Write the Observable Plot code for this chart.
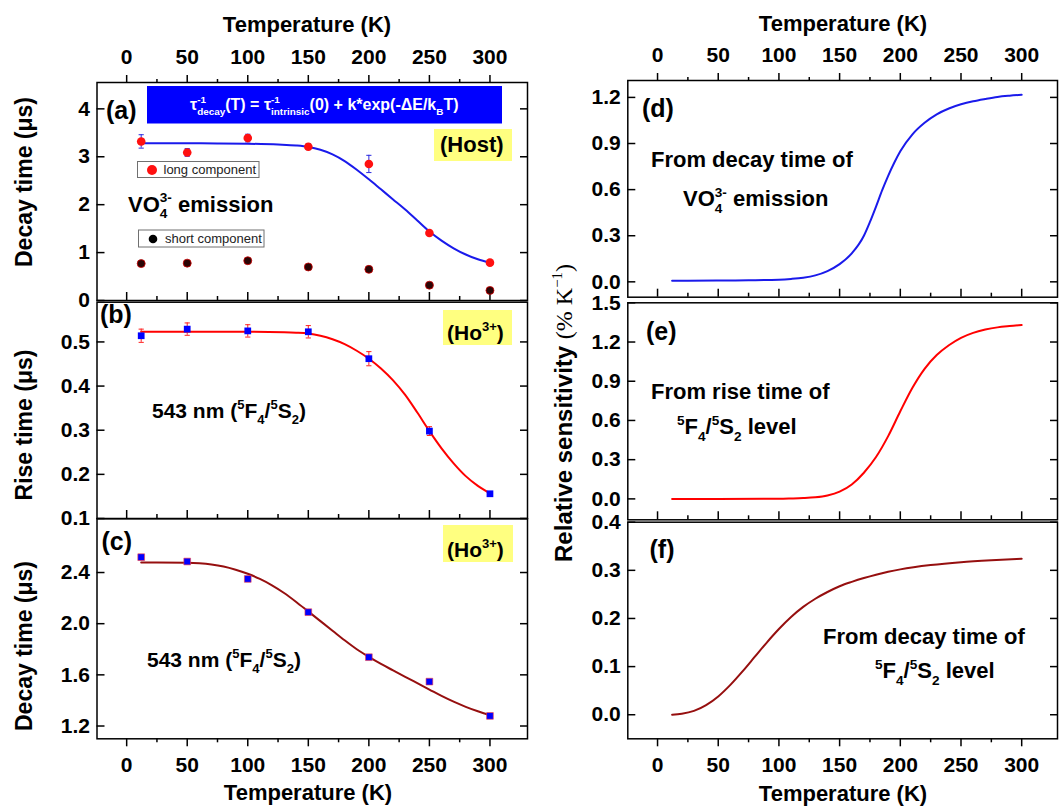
<!DOCTYPE html>
<html><head><meta charset="utf-8">
<script src="https://cdn.jsdelivr.net/npm/d3@7"></script>
<script src="https://cdn.jsdelivr.net/npm/@observablehq/plot@0.6"></script>
<style>
body{margin:0;background:#fff;}
#chart{position:relative;width:1059px;height:807px;overflow:hidden;background:#fff;}
#chart svg{position:absolute;}
</style></head><body><div id="chart"></div>
<script>
const FONT = "'Liberation Sans', Arial, sans-serif";
const SERIF = "'Liberation Serif', 'Times New Roman', serif";

// ---- data ----
const temps = [12, 50, 100, 150, 200, 250, 300];
const xMajor = [0, 50, 100, 150, 200, 250, 300];
const xMinor = [25, 75, 125, 175, 225, 275];

// (a) VO4 decay time
const aLong = [3.32, 3.09, 3.39, 3.21, 2.85, 1.41, 0.79];
const aLongErr = [0.14, 0.08, 0.08, 0.06, 0.18, 0.03, 0.03];
const aShort = [0.77, 0.78, 0.83, 0.70, 0.65, 0.32, 0.21];
const aShortErr = [0.03, 0.03, 0.03, 0.03, 0.03, 0.03, 0.06];
const aFitT = [12, 25, 50, 75, 100, 125, 140, 150, 160, 170, 180, 190, 200, 210, 220, 230, 240, 250, 260, 270, 280, 290, 300];
const aFitV = [3.28, 3.28, 3.28, 3.278, 3.272, 3.255, 3.235, 3.205, 3.145, 3.05, 2.91, 2.73, 2.53, 2.32, 2.11, 1.90, 1.67, 1.44, 1.25, 1.09, 0.96, 0.86, 0.79];

// (b) rise time
const bRise = [0.514, 0.529, 0.525, 0.523, 0.462, 0.298, 0.156];
const bRiseErr = [0.015, 0.014, 0.014, 0.014, 0.016, 0.01, 0.005];
const bFitT = [12, 50, 100, 130, 140, 150, 160, 170, 180, 190, 200, 210, 220, 230, 240, 250, 260, 270, 280, 290, 300];
const bFitV = [0.523, 0.523, 0.523, 0.522, 0.521, 0.519, 0.514, 0.506, 0.495, 0.48, 0.462, 0.44, 0.413, 0.38, 0.34, 0.298, 0.259, 0.225, 0.196, 0.174, 0.157];

// (c) Ho decay time
const cDecay = [2.52, 2.486, 2.35, 2.09, 1.738, 1.547, 1.279];
const cDecayErr = [0.02, 0.015, 0.015, 0.012, 0.012, 0.01, 0.01];
const cFitT = [12, 25, 50, 60, 70, 80, 90, 100, 110, 120, 130, 140, 150, 160, 170, 180, 190, 200, 210, 220, 230, 240, 250, 260, 270, 280, 290, 300];
const cFitV = [2.478, 2.478, 2.476, 2.472, 2.463, 2.447, 2.422, 2.39, 2.35, 2.3, 2.24, 2.17, 2.095, 2.02, 1.945, 1.87, 1.80, 1.74, 1.685, 1.635, 1.585, 1.535, 1.485, 1.435, 1.39, 1.35, 1.315, 1.285];

// (d)(e)(f) relative sensitivity
const dT = [12, 25, 50, 75, 100, 110, 120, 130, 140, 150, 160, 170, 175, 180, 185, 190, 195, 200, 210, 220, 230, 240, 250, 260, 270, 280, 290, 300];
const dV = [0.007, 0.007, 0.008, 0.01, 0.014, 0.019, 0.027, 0.042, 0.07, 0.115, 0.185, 0.30, 0.39, 0.49, 0.595, 0.69, 0.775, 0.85, 0.96, 1.035, 1.09, 1.128, 1.155, 1.175, 1.19, 1.203, 1.211, 1.217];
const eT = [12, 50, 100, 110, 120, 130, 140, 150, 160, 170, 180, 190, 200, 210, 220, 230, 240, 250, 260, 270, 280, 290, 300];
const eV = [0, 0, 0.001, 0.003, 0.006, 0.012, 0.026, 0.055, 0.11, 0.2, 0.32, 0.48, 0.67, 0.85, 0.995, 1.1, 1.175, 1.232, 1.27, 1.295, 1.312, 1.322, 1.33];
const fT = [12, 20, 30, 40, 50, 60, 70, 80, 90, 100, 110, 120, 130, 140, 150, 160, 170, 180, 190, 200, 225, 250, 275, 300];
const fV = [0, 0.002, 0.008, 0.02, 0.038, 0.062, 0.09, 0.12, 0.15, 0.178, 0.203, 0.224, 0.241, 0.255, 0.267, 0.276, 0.284, 0.291, 0.297, 0.302, 0.311, 0.317, 0.321, 0.324];

const pts = (vals, errs) => temps.map((T, i) => ({T, v: vals[i], e: errs ? errs[i] : 0}));
const curve = (Ts, Vs) => Ts.map((T, i) => ({T, v: Vs[i]}));

const capSym = {draw(ctx, size) { const w = Math.sqrt(size / Math.PI); ctx.moveTo(-w, 0); ctx.lineTo(w, 0); }};
const errMarks = (data, color) => [
  Plot.ruleX(data, {x: "T", y1: d => d.v - d.e, y2: d => d.v + d.e, stroke: color, strokeWidth: 1}),
  Plot.dot(data, {x: "T", y: d => d.v - d.e, symbol: capSym, r: 2.6, stroke: color, fill: "none", strokeWidth: 1}),
  Plot.dot(data, {x: "T", y: d => d.v + d.e, symbol: capSym, r: 2.6, stroke: color, fill: "none", strokeWidth: 1})
];

const chart = document.getElementById("chart");

function panel(cfg) {
  const marks = [
    Plot.axisY({anchor: "left", ticks: cfg.yt, tickSize: 0, tickPadding: 7, tickFormat: cfg.yf, fontSize: 21, fontWeight: "bold", label: null}),
    Plot.axisY({anchor: "left", ticks: cfg.yt, tickSize: 8, dx: 8, tickFormat: () => "", label: null, strokeWidth: 1.5}),
    Plot.axisY({anchor: "right", ticks: cfg.yt, tickSize: 8, dx: -8, tickFormat: () => "", label: null, strokeWidth: 1.5})
  ];
  if (cfg.topAxis) marks.push(
    Plot.axisX({anchor: "top", ticks: xMajor, tickSize: 8, tickPadding: 10.5, fontSize: 21, fontWeight: "bold", label: null, strokeWidth: 1.5}),
    Plot.axisX({anchor: "top", ticks: xMinor, tickSize: 4, tickFormat: () => "", label: null, strokeWidth: 1.5})
  );
  if (cfg.bottomOut) marks.push(
    Plot.axisX({anchor: "bottom", ticks: xMajor, tickSize: 8, tickPadding: 10.5, fontSize: 21, fontWeight: "bold", label: null, strokeWidth: 1.5}),
    Plot.axisX({anchor: "bottom", ticks: xMinor, tickSize: 4, tickFormat: () => "", label: null, strokeWidth: 1.5})
  ); else marks.push(
    Plot.axisX({anchor: "bottom", ticks: xMajor, tickSize: 8, dy: -8, tickFormat: () => "", label: null, strokeWidth: 1.5}),
    Plot.axisX({anchor: "bottom", ticks: xMinor, tickSize: 4, dy: -4, tickFormat: () => "", label: null, strokeWidth: 1.5})
  );
  marks.push(...cfg.marks, Plot.frame({stroke: "black", strokeWidth: 1.5}));
  const svg = Plot.plot({
    width: cfg.width, height: cfg.height,
    marginLeft: cfg.ml, marginRight: cfg.mr, marginTop: cfg.mt, marginBottom: cfg.mb,
    x: {domain: cfg.xd},
    y: {domain: cfg.yd},
    style: {background: "transparent", overflow: "visible", fontFamily: FONT, color: "black"},
    marks
  });
  svg.style.left = cfg.left + "px";
  svg.style.top = cfg.top + "px";
  chart.appendChild(svg);
  svg.__off = [cfg.left, cfg.top];
  return svg;
}

function rich(svg, x, y, parts, o = {}) {
  const off = svg.__off;
  const size = o.size ?? 22;
  const px = x - off[0], py = y - off[1];
  const t = d3.select(svg).append("text")
    .attr("x", px).attr("y", py)
    .attr("font-family", o.family ?? FONT).attr("font-size", size)
    .attr("font-weight", o.weight ?? "bold").attr("fill", o.fill ?? "black")
    .attr("text-anchor", o.anchor ?? "start");
  if (o.rotate) t.attr("transform", `rotate(${o.rotate}, ${px}, ${py})`);
  let shift = 0, lastLen = 0, pending = 0;
  for (const [s, k, extra] of parts) {
    const ts = t.append("tspan").text(s);
    const target = k === "sup" ? -0.42 * size : (k === "sub" || k === "subStack") ? 0.3 * size : 0;
    ts.attr("dy", target - shift);
    shift = target;
    if (k) ts.attr("font-size", size * 0.62);
    if (extra) for (const [a, v] of Object.entries(extra)) ts.attr(a, v);
    const len = ts.node().getComputedTextLength();
    if (k === "subStack") {
      ts.attr("dx", -lastLen);
      pending = Math.max(0, lastLen - len);
    } else {
      if (pending) ts.attr("dx", pending);
      pending = 0;
    }
    lastLen = len;
  }
  return t;
}
function box(svg, x1, y1, x2, y2, fill, stroke) {
  const off = svg.__off;
  d3.select(svg).append("rect").attr("x", x1 - off[0]).attr("y", y1 - off[1])
    .attr("width", x2 - x1).attr("height", y2 - y1).attr("fill", fill)
    .attr("stroke", stroke || "none").attr("stroke-width", 1);
}

const L = {left: 0, width: 530, ml: 96.5, mr: 3, xd: [-24.5, 331]};
const R = {left: 530, width: 529, ml: 97.3, mr: 2, xd: [-24.5, 329.5]};
const f1 = d3.format(".1f");

// (a)
const longData = pts(aLong, aLongErr), shortData = pts(aShort, aShortErr);
const sa = panel({...L, top: 0, height: 320, mt: 82, mb: 20, yd: [0, 4.55], yt: [0, 1, 2, 3, 4], yf: d3.format("d"), topAxis: true,
  marks: [
    Plot.line(curve(aFitT, aFitV), {x: "T", y: "v", stroke: "#1a1aeb", strokeWidth: 2, curve: "monotone-x"}),
    ...errMarks(longData, "#2a2ae0"),
    ...errMarks(shortData, "#e00000"),
    Plot.dot(longData, {x: "T", y: "v", r: 4.3, fill: "#ff1010"}),
    Plot.dot(shortData, {x: "T", y: "v", r: 4, fill: "#2a0505", stroke: "#d00000", strokeWidth: 0.8})
  ]});
// (b)
const riseData = pts(bRise, bRiseErr);
const sb = panel({...L, top: 280, height: 260, mt: 21.7, mb: 22, yd: [0.1, 0.59], yt: [0.1, 0.2, 0.3, 0.4, 0.5], yf: f1,
  marks: [
    Plot.line(curve(bFitT, bFitV), {x: "T", y: "v", stroke: "#ff0000", strokeWidth: 2, curve: "monotone-x"}),
    ...errMarks(riseData, "#ff2020"),
    Plot.dot(riseData, {x: "T", y: "v", symbol: "square", r: 3.8, fill: "#0000ff"})
  ]});
// (c)
const cData = pts(cDecay, cDecayErr);
const sc = panel({...L, top: 498, height: 309, mt: 20.3, mb: 68.7, yd: [1.1, 2.82], yt: [1.2, 1.6, 2.0, 2.4], yf: f1, bottomOut: true,
  marks: [
    Plot.line(curve(cFitT, cFitV), {x: "T", y: "v", stroke: "#960f0f", strokeWidth: 2, curve: "monotone-x"}),
    ...errMarks(cData, "#ff3030"),
    Plot.dot(cData, {x: "T", y: "v", symbol: "square", r: 3.8, fill: "#0000ff", stroke: "#ff4040", strokeWidth: 0.6})
  ]});
// (d)
const sd = panel({...R, top: 0, height: 320, mt: 80, mb: 23.3, yd: [-0.1, 1.31], yt: [0, 0.3, 0.6, 0.9, 1.2], yf: f1, topAxis: true,
  marks: [Plot.line(curve(dT, dV), {x: "T", y: "v", stroke: "#1a1aeb", strokeWidth: 2, curve: "monotone-x"})]});
// (e)
const se = panel({...R, top: 280, height: 260, mt: 22.3, mb: 20.7, yd: [-0.16, 1.5], yt: [0, 0.3, 0.6, 0.9, 1.2, 1.5], yf: f1,
  marks: [Plot.line(curve(eT, eV), {x: "T", y: "v", stroke: "#ff0000", strokeWidth: 2, curve: "monotone-x"})]});
// (f)
const sf = panel({...R, top: 498, height: 309, mt: 23.7, mb: 68.7, yd: [-0.05, 0.4], yt: [0, 0.1, 0.2, 0.3, 0.4], yf: f1, bottomOut: true,
  marks: [Plot.line(curve(fT, fV), {x: "T", y: "v", stroke: "#960f0f", strokeWidth: 2, curve: "monotone-x"})]});

// ---- annotations ----
rich(sa, 307, 31.5, [["Temperature (K)", ""]], {anchor: "middle", size: 22});
rich(sd, 843, 31, [["Temperature (K)", ""]], {anchor: "middle", size: 22});
rich(sc, 308, 800, [["Temperature (K)", ""]], {anchor: "middle", size: 22});
rich(sf, 843, 801, [["Temperature (K)", ""]], {anchor: "middle", size: 22});
rich(sa, 32, 182, [["Decay time (μs)", ""]], {anchor: "middle", size: 23, rotate: -90});
rich(sb, 32, 425, [["Rise time (μs)", ""]], {anchor: "middle", size: 23, rotate: -90});
rich(sc, 32, 646, [["Decay time (μs)", ""]], {anchor: "middle", size: 23, rotate: -90});
const serifNormal = {"font-family": SERIF, "font-weight": "normal"};
rich(sd, 572, 413, [["Relative sensitivity ", ""], ["(% K", "", serifNormal], ["−1", "sup", serifNormal], [")", "", serifNormal]], {anchor: "middle", size: 24, rotate: -90});

// (a) annotations
box(sa, 147, 86, 502, 123.5, "#0000ff");
rich(sa, 190, 110, [["τ", ""], ["-1", "sup"], ["decay", "subStack"], ["(T) = τ", ""], ["-1", "sup"], ["intrinsic", "subStack"], ["(0) + k*exp(-ΔE/k", ""], ["B", "sub"], ["T)", ""]], {size: 16, fill: "white"});
rich(sa, 106, 118.5, [["(a)", ""]], {size: 25});
box(sa, 434, 129, 512, 161, "#ffff80");
rich(sa, 440, 152, [["(Host)", ""]], {size: 22});
box(sa, 137.5, 161.5, 259, 177.5, "white", "#707070");
d3.select(sa).append("circle").attr("cx", 152).attr("cy", 170).attr("r", 5).attr("fill", "#ff1010");
rich(sa, 163.5, 174, [["long component", ""]], {size: 13, weight: "normal", fill: "#222"});
box(sa, 138.5, 230, 264, 247, "white", "#707070");
d3.select(sa).append("circle").attr("cx", 153).attr("cy", 239).attr("r", 4.3).attr("fill", "black");
rich(sa, 165, 243, [["short component", ""]], {size: 13, weight: "normal", fill: "#222"});
rich(sa, 128, 211.5, [["VO", ""], ["3-", "sup"], ["4", "subStack"], [" emission", ""]], {size: 22});

// (b)
rich(sb, 100, 323, [["(b)", ""]], {size: 25});
box(sb, 443, 310, 512, 345, "#ffff80");
rich(sb, 447, 340, [["(Ho", ""], ["3+", "sup"], [")", ""]], {size: 21});
rich(sb, 152, 418, [["543 nm (", ""], ["5", "sup"], ["F", ""], ["4", "sub"], ["/", ""], ["5", "sup"], ["S", ""], ["2", "sub"], [")", ""]], {size: 21});
// (c)
rich(sc, 101.5, 550, [["(c)", ""]], {size: 25});
box(sc, 443, 525, 513, 562, "#ffff80");
rich(sc, 447, 556.5, [["(Ho", ""], ["3+", "sup"], [")", ""]], {size: 21});
rich(sc, 147, 666.5, [["543 nm (", ""], ["5", "sup"], ["F", ""], ["4", "sub"], ["/", ""], ["5", "sup"], ["S", ""], ["2", "sub"], [")", ""]], {size: 21});
// (d)
rich(sd, 642, 116.5, [["(d)", ""]], {size: 25});
rich(sd, 651, 166.5, [["From decay time of", ""]], {size: 22});
rich(sd, 683, 206, [["VO", ""], ["3-", "sup"], ["4", "subStack"], [" emission", ""]], {size: 22});
// (e)
rich(se, 646, 340, [["(e)", ""]], {size: 25});
rich(se, 651, 399, [["From rise time of", ""]], {size: 22});
rich(se, 677, 434, [["5", "sup"], ["F", ""], ["4", "sub"], ["/", ""], ["5", "sup"], ["S", ""], ["2", "sub"], [" level", ""]], {size: 22});
// (f)
rich(sf, 649.5, 558, [["(f)", ""]], {size: 25});
rich(sf, 823, 644, [["From decay time of", ""]], {size: 22});
rich(sf, 875, 678, [["5", "sup"], ["F", ""], ["4", "sub"], ["/", ""], ["5", "sup"], ["S", ""], ["2", "sub"], [" level", ""]], {size: 22});
</script></body></html>
